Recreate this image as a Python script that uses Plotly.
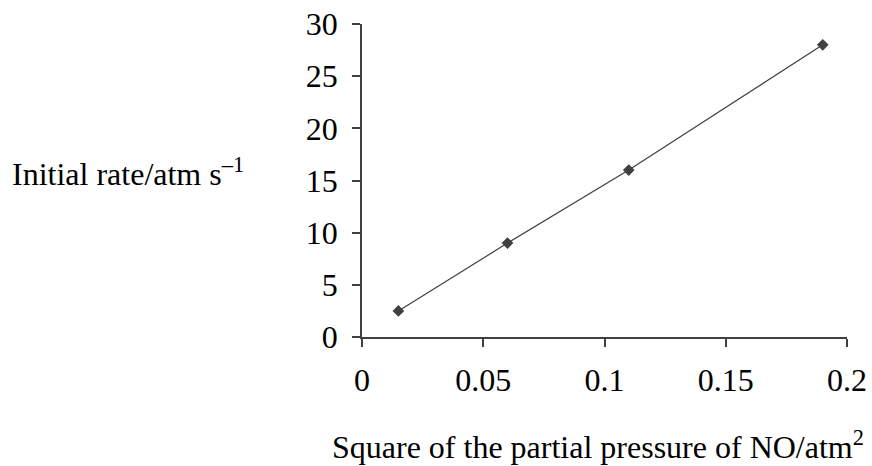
import plotly.graph_objects as go

pressure_sq = [0.015, 0.06, 0.11, 0.19]
initial_rate = [2.5, 9, 16, 28]
x_ticks = [0, 0.05, 0.1, 0.15, 0.2]
x_tick_labels = ["0", "0.05", "0.1", "0.15", "0.2"]
y_ticks = [0, 5, 10, 15, 20, 25, 30]

fig = go.Figure()
fig.add_trace(go.Scatter(
    x=pressure_sq, y=initial_rate, mode="lines+markers",
    line=dict(color="#404040", width=1.2),
    marker=dict(symbol="diamond", size=9, color="#404040"),
    showlegend=False,
))

font = dict(family="Liberation Serif, Times New Roman, serif", size=32, color="black")
# plot area at window x 362..847, y 24..337 (page body margin removed below)
L, R, T, B = 362, 25, 24, 129
PW, PH = 872 - L - R, 466 - T - B
fig.update_layout(
    width=872, height=466,
    margin=dict(l=L, r=R, t=T, b=B, autoexpand=False),
    paper_bgcolor="white", plot_bgcolor="white",
    font=font,
    xaxis=dict(range=[0, 0.2], tickvals=x_ticks, ticktext=x_tick_labels,
               showline=True, linecolor="#404040", linewidth=1.5,
               ticks="outside", ticklen=8, tickcolor="#404040", tickwidth=1.5,
               showgrid=False, zeroline=False, ticklabelstandoff=6,
               ticklabeloverflow="allow", automargin=False),
    yaxis=dict(range=[0, 30], tickvals=y_ticks,
               showline=True, linecolor="#404040", linewidth=1.5,
               ticks="outside", ticklen=8, tickcolor="#404040", tickwidth=1.5,
               showgrid=False, zeroline=False, ticklabelstandoff=8,
               ticklabeloverflow="allow", automargin=False),
    annotations=[
        dict(text="Initial rate/atm s<sup>–1</sup>", xref="paper", yref="paper",
             x=(10 - L) / PW, y=(T + PH - 172) / PH, xanchor="left", yanchor="middle",
             showarrow=False, font=font),
        dict(text="Square of the partial pressure of NO/atm<sup>2</sup>", xref="paper", yref="paper",
             x=(598 - L) / PW, y=(T + PH - 445) / PH, xanchor="center", yanchor="middle",
             showarrow=False, font=font),
    ],
)
fig.write_html("out.html", config={"displayModeBar": False})

with open("out.html", encoding="utf-8") as f:
    html = f.read()
html = html.replace("<head>", "<head><style>html,body{margin:0;padding:0;overflow:hidden}</style>", 1)
with open("out.html", "w", encoding="utf-8") as f:
    f.write(html)
